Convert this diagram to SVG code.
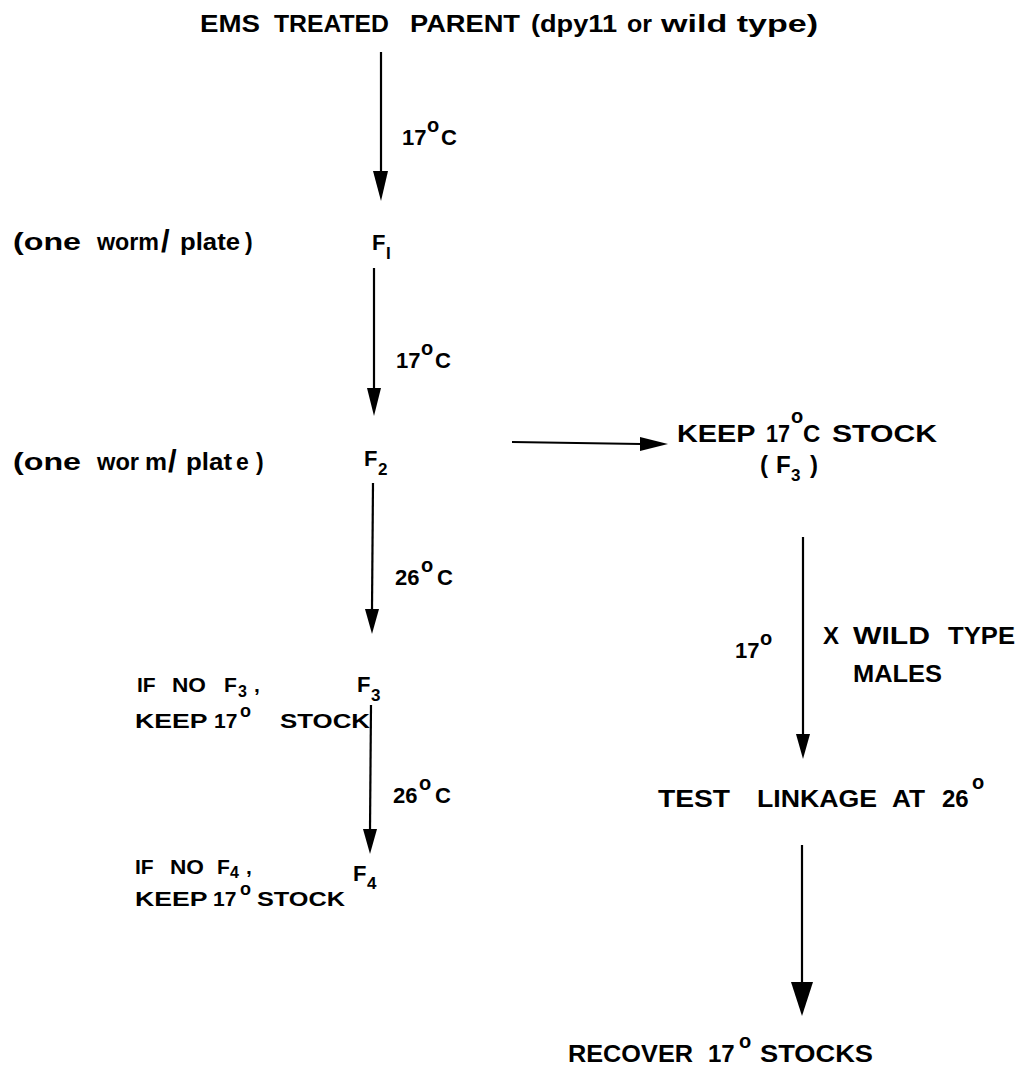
<svg xmlns="http://www.w3.org/2000/svg" width="1032" height="1068" viewBox="0 0 1032 1068">
<style>
text{font-family:"Liberation Sans",Arial,sans-serif;font-weight:bold;fill:#000;font-size:22px}
.t{font-size:24px}
.a{font-size:24px}
.b{font-size:21px}
.c{font-size:22px}
.n{font-size:23px}
.s{font-size:20px}
.d{font-size:17px}
.ln{stroke:#000;stroke-width:2.2;fill:none}
</style>
<rect width="1032" height="1068" fill="#fff"/>
<g id="connectors">
<line class="ln" x1="381" y1="52" x2="381" y2="172"/>
<path d="M373,171 L388,171 L381,201 Z" fill="#000"/>
<line class="ln" x1="374" y1="268" x2="374" y2="389"/>
<path d="M367,388 L381,388 L374,416 Z" fill="#000"/>
<line class="ln" x1="512" y1="442" x2="641" y2="444"/>
<path d="M640,437 L668,444 L640,451 Z" fill="#000"/>
<line class="ln" x1="373" y1="483" x2="372" y2="610"/>
<path d="M365,609 L379,609 L372,634 Z" fill="#000"/>
<line class="ln" x1="371" y1="705" x2="370" y2="830"/>
<path d="M363,829 L377,829 L370,854 Z" fill="#000"/>
<line class="ln" x1="803" y1="537" x2="803" y2="735"/>
<path d="M796,734 L810,734 L803,759 Z" fill="#000"/>
<line class="ln" x1="802" y1="845" x2="802" y2="983"/>
<path d="M791,982 L813,982 L802,1016 Z" fill="#000"/>
</g>
<g id="n_parent"><text class="t" y="32"><tspan x="200" textLength="60" lengthAdjust="spacingAndGlyphs">EMS</tspan> <tspan x="274" textLength="115" lengthAdjust="spacingAndGlyphs">TREATED</tspan> <tspan x="410" textLength="110" lengthAdjust="spacingAndGlyphs">PARENT</tspan> <tspan x="531" textLength="86" lengthAdjust="spacingAndGlyphs">(dpy11</tspan> <tspan x="627" textLength="25" lengthAdjust="spacingAndGlyphs">or</tspan> <tspan x="661" textLength="157" lengthAdjust="spacingAndGlyphs">wild type)</tspan></text></g>
<g id="l1"><text class="c" y="145"><tspan x="402">17</tspan><tspan class="s" x="427" y="132">o</tspan><tspan x="441" y="145">C</tspan></text></g>
<g id="n_f1_note"><text class="n" y="250"><tspan x="13" textLength="68" lengthAdjust="spacingAndGlyphs">(one</tspan> <tspan x="97" textLength="62" lengthAdjust="spacingAndGlyphs">worm</tspan><tspan x="161" y="252" font-size="31">/</tspan><tspan x="180" y="250" textLength="60" lengthAdjust="spacingAndGlyphs">plate</tspan><tspan x="245">)</tspan></text></g>
<g id="n_f1"><text class="c" y="250"><tspan x="372">F</tspan><tspan class="d" x="386" y="259">I</tspan></text></g>
<g id="l2"><text class="c" y="368"><tspan x="396">17</tspan><tspan class="s" x="421" y="355">o</tspan><tspan x="435" y="368">C</tspan></text></g>
<g id="n_f2_note"><text class="n" y="470"><tspan x="13" textLength="68" lengthAdjust="spacingAndGlyphs">(one</tspan> <tspan x="97" textLength="42" lengthAdjust="spacingAndGlyphs">wor</tspan> <tspan x="145" textLength="22" lengthAdjust="spacingAndGlyphs">m</tspan><tspan x="168" y="472" font-size="31">/</tspan><tspan x="186" y="470" textLength="46" lengthAdjust="spacingAndGlyphs">plat</tspan> <tspan x="236">e</tspan> <tspan x="256">)</tspan></text></g>
<g id="n_f2"><text class="c" y="466"><tspan x="364">F</tspan><tspan class="d" x="378" y="475">2</tspan></text></g>
<g id="n_keep"><text class="a" y="442"><tspan x="677" textLength="78" lengthAdjust="spacingAndGlyphs">KEEP</tspan> <tspan x="766" textLength="24" lengthAdjust="spacingAndGlyphs">17</tspan><tspan class="s" x="791" y="423">o</tspan><tspan x="803" y="442">C</tspan> <tspan x="832" textLength="105" lengthAdjust="spacingAndGlyphs">STOCK</tspan></text>
<text class="a" y="473"><tspan x="760">(</tspan><tspan x="776">F</tspan><tspan class="d" x="791" y="481">3</tspan><tspan x="810" y="473">)</tspan></text></g>
<g id="l3"><text class="c" y="585"><tspan x="395">26</tspan><tspan class="s" x="421" y="572">o</tspan><tspan x="437" y="585">C</tspan></text></g>
<g id="n_f3"><text class="c" y="692"><tspan x="357">F</tspan><tspan class="d" x="371" y="701">3</tspan></text></g>
<g id="n_f3_note"><text class="b" y="692"><tspan x="137">IF</tspan> <tspan x="172" textLength="34" lengthAdjust="spacingAndGlyphs">NO</tspan> <tspan x="224">F</tspan><tspan x="238" y="697" font-size="16">3</tspan><tspan x="254" y="692">,</tspan></text>
<text class="b" y="728"><tspan x="135" textLength="72" lengthAdjust="spacingAndGlyphs">KEEP</tspan> <tspan x="214">17</tspan><tspan x="240" y="717" font-size="18">o</tspan> <tspan x="280" y="728" textLength="90" lengthAdjust="spacingAndGlyphs">STOCK</tspan></text></g>
<g id="l4"><text class="c" y="803"><tspan x="393">26</tspan><tspan class="s" x="419" y="790">o</tspan><tspan x="435" y="803">C</tspan></text></g>
<g id="n_f4"><text class="c" y="881"><tspan x="353">F</tspan><tspan class="d" x="367" y="889">4</tspan></text></g>
<g id="n_f4_note"><text class="b" y="874"><tspan x="135">IF</tspan> <tspan x="170" textLength="34" lengthAdjust="spacingAndGlyphs">NO</tspan> <tspan x="217">F</tspan><tspan x="230" y="878" font-size="16">4</tspan><tspan x="246" y="874">,</tspan></text>
<text class="b" y="906"><tspan x="135" textLength="72" lengthAdjust="spacingAndGlyphs">KEEP</tspan> <tspan x="213">17</tspan><tspan x="240" y="895" font-size="18">o</tspan><tspan x="257" y="906" textLength="88" lengthAdjust="spacingAndGlyphs">STOCK</tspan></text></g>
<g id="l5"><text class="c" y="658"><tspan x="735">17</tspan><tspan class="s" x="760" y="645">o</tspan></text>
<text class="a" y="644"><tspan x="823">X</tspan> <tspan x="853" textLength="77" lengthAdjust="spacingAndGlyphs">WILD</tspan> <tspan x="948" textLength="67" lengthAdjust="spacingAndGlyphs">TYPE</tspan></text>
<text class="a" x="853" y="682" textLength="89" lengthAdjust="spacingAndGlyphs">MALES</text></g>
<g id="n_test"><text class="a" y="807"><tspan x="658" textLength="72" lengthAdjust="spacingAndGlyphs">TEST</tspan> <tspan x="757" textLength="120" lengthAdjust="spacingAndGlyphs">LINKAGE</tspan> <tspan x="892" textLength="33" lengthAdjust="spacingAndGlyphs">AT</tspan> <tspan x="942">26</tspan><tspan class="s" x="972" y="789">o</tspan></text></g>
<g id="n_recover"><text class="a" y="1062"><tspan x="568" textLength="125" lengthAdjust="spacingAndGlyphs">RECOVER</tspan> <tspan x="708">17</tspan><tspan class="s" x="739" y="1048">o</tspan> <tspan x="760" y="1062" textLength="113" lengthAdjust="spacingAndGlyphs">STOCKS</tspan></text></g>
</svg>
